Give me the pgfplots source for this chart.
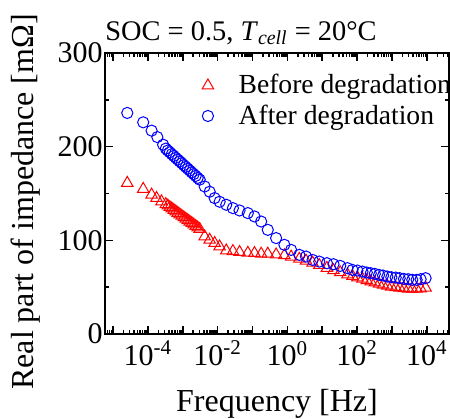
\documentclass[border=0pt]{standalone}
\usepackage{fontspec}
\setmainfont{Liberation Serif}
\usepackage{pgfplots}
\pgfplotsset{compat=1.18}

\begin{document}
\begin{tikzpicture}
\begin{axis}[
 at={(0,0)},anchor=south west,
 scale only axis,width=172pt,height=140.5pt,
 xmode=log,xmin=5.9e-6,xmax=4.3e4,
 ymin=0,ymax=300,
 xtick={1e-5,1e-4,1e-3,1e-2,1e-1,1,1e1,1e2,1e3,1e4},
 xticklabels={,10\textsuperscript{-4},,10\textsuperscript{-2},,10\textsuperscript{0},,10\textsuperscript{2},,10\textsuperscript{4}},
 minor xtick={6e-6,7e-6,8e-6,9e-6,
   2e-5,3e-5,4e-5,5e-5,6e-5,7e-5,8e-5,9e-5,
   2e-4,3e-4,4e-4,5e-4,6e-4,7e-4,8e-4,9e-4,
   2e-3,3e-3,4e-3,5e-3,6e-3,7e-3,8e-3,9e-3,
   2e-2,3e-2,4e-2,5e-2,6e-2,7e-2,8e-2,9e-2,
   0.2,0.3,0.4,0.5,0.6,0.7,0.8,0.9,
   2,3,4,5,6,7,8,9,
   20,30,40,50,60,70,80,90,
   200,300,400,500,600,700,800,900,
   2000,3000,4000,5000,6000,7000,8000,9000,
   2e4,3e4,4e4},
 ytick={0,100,200,300},minor ytick={50,150,250},
 xtick pos=both,ytick pos=both,tick align=inside,
 axis line style={line width=1pt},
 every tick/.style={black,line width=0.8pt},
 major tick length=4pt,minor tick length=2.2pt,
 /pgf/number format/assume math mode=true,
 tick label style={font=\rmfamily\fontsize{15}{17}\selectfont},
 yticklabel style={inner sep=1pt},
 label style={font=\rmfamily\fontsize{16}{18}\selectfont},
 xlabel={Frequency [Hz]},
 xlabel style={yshift=-5pt},
 ylabel={Real part of impedance [mΩ]},
 ylabel style={at={(ticklabel cs:0.47)}},
 ylabel shift=4pt,
 every axis title shift=0pt,
 title={SOC = 0.5, \textit{T}\textsubscript{\textit{cell}} = 20°C},
 title style={at={(0,1)},anchor=base west,yshift=6.5pt,inner sep=0pt,
   font=\rmfamily\fontsize{14.2}{17}\selectfont},
 legend style={at={(0.264,0.954)},anchor=north west,draw=none,fill=none,
   font=\rmfamily\fontsize{13.8}{16}\selectfont,
   /tikz/every odd column/.append style={column sep=10.5pt}},
 legend cell align=left,
]
\addplot[only marks,mark=triangle,mark size=3.3pt,red,line width=0.5pt] coordinates {
 (2.57e-5,161.2) (7.35e-5,154.8) (1.28e-4,148.7) (1.77e-4,145.1) (2.46e-4,141.5)
 (3.27e-4,138.5) (3.73e-4,137.0) (4.25e-4,135.4) (4.85e-4,133.9) (5.53e-4,132.3)
 (6.31e-4,130.7) (7.20e-4,129.2) (8.21e-4,127.6) (9.36e-4,126.1) (1.07e-3,124.5)
 (1.22e-3,122.9) (1.39e-3,121.4) (1.59e-3,119.8) (1.81e-3,118.3) (2.06e-3,116.7)
 (2.35e-3,115.1) (2.68e-3,113.6) (3.06e-3,112.0) (4.25e-3,104.1) (5.91e-3,100.5)
 (8.21e-3,97.0) (1.14e-2,93.4) (1.77e-2,89.1) (2.74e-2,88.4) (4.25e-2,87.4)
 (7.34e-2,86.6) (0.114,86.3) (0.177,85.6) (0.274,85.6) (0.475,84.8)
 (0.821,84.0) (1.28,82.5) (2.20,80.2) (3.42,78.2) (5.28,76.0)
 (8.21,73.5) (13.6,70.5) (21.0,68.0) (32.7,65.8) (52.8,63.5)
 (73.4,61.8) (102,60.3) (142,58.8) (189,57.3) (246,56.0)
 (321,54.8) (425,53.5) (553,52.4) (734,51.4) (955,50.5)
 (1276,49.8) (1660,49.2) (2203,48.7) (2924,48.3) (3802,48.1)
 (5082,48.2) (6607,48.6) (9183,49.3)
};
\addlegendentry{Before degradation}
\addplot[only marks,mark=o,mark size=2.8pt,blue,line width=0.5pt] coordinates {
 (2.57e-5,236.0) (7.35e-5,226.0) (1.28e-4,217.1) (1.87e-4,210.2) (2.74e-4,202.1)
 (3.27e-4,197.9) (3.73e-4,195.9) (4.25e-4,194.0) (4.85e-4,192.0) (5.53e-4,190.1)
 (6.31e-4,188.1) (7.20e-4,186.2) (8.21e-4,184.3) (9.36e-4,182.4) (1.07e-3,180.3)
 (1.22e-3,178.4) (1.39e-3,176.5) (1.59e-3,174.5) (1.81e-3,172.6) (2.06e-3,170.7)
 (2.35e-3,168.8) (2.68e-3,166.7) (3.06e-3,164.8) (4.25e-3,157.5) (5.91e-3,151.9)
 (8.21e-3,145.1) (1.14e-2,141.2) (1.77e-2,138.0) (2.74e-2,134.4) (4.25e-2,131.9)
 (7.34e-2,129.1) (0.114,125.5) (0.177,120.1) (0.274,111.2) (0.475,102.4)
 (0.821,95.2) (1.28,89.8) (2.20,84.5) (3.42,82.7) (5.28,79.1)
 (8.21,77.3) (13.6,75.6) (21.0,74.5) (32.7,72.7) (52.8,70.3)
 (73.4,68.4) (102,67.7) (142,66.6) (189,65.6) (246,64.9)
 (321,64.2) (425,63.1) (553,62.4) (734,61.3) (955,60.6)
 (1276,60.2) (1660,59.6) (2203,58.8) (2924,58.5) (3802,57.8)
 (5082,57.8) (6607,58.5) (9183,59.6)
};
\addlegendentry{After degradation}
\end{axis}
\pgfresetboundingbox
\useasboundingbox (-52.5pt,-42pt) rectangle (172.5pt,167pt);
\end{tikzpicture}
\end{document}
